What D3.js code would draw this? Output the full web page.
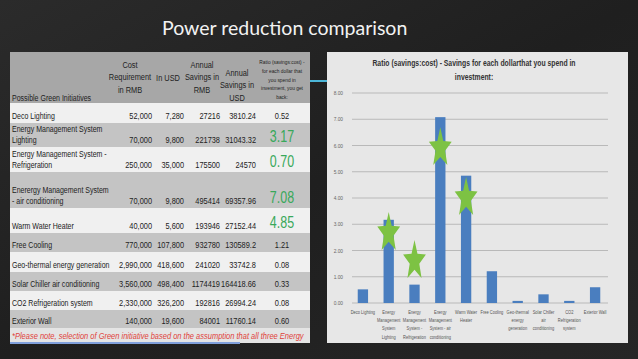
<!DOCTYPE html>
<meta charset="utf-8">
<html>
<head>
<style>
  body { margin: 0; background: #222; }
  svg { display: block; }
  .narrow { font-family: "Liberation Sans", Arial, sans-serif; }
</style>
</head>
<body>
<div id="slide"></div>
<script src="https://d3js.org/d3.v7.min.js"></script>
<script>
// ---- data ----
let initiatives = [
  ['Deco Lighting'],
  ['Energy Management System', 'Lighting'],
  ['Energy Management System -', 'Refrigeration'],
  ['Enerergy Management System', '- air conditioning'],
  ['Warm Water Heater'],
  ['Free Cooling'],
  ['Geo-thermal energy generation'],
  ['Solar Chiller air conditioning'],
  ['CO2 Refrigeration system'],
  ['Exterior Wall']
];
let costRMB = ['52,000', '70,000', '250,000', '70,000', '40,000', '770,000', '2,990,000', '3,560,000', '2,330,000', '140,000'];
let costUSD = ['7,280', '9,800', '35,000', '9,800', '5,600', '107,800', '418,600', '498,400', '326,200', '19,600'];
let savingsRMB = ['27216', '221738', '175500', '495414', '193946', '932780', '241020', '1174419', '192816', '84001'];
let savingsUSD = ['3810.24', '31043.32', '24570', '69357.96', '27152.44', '130589.2', '33742.8', '164418.66', '26994.24', '11760.14'];
let ratio = [0.52, 3.17, 0.70, 7.08, 4.85, 1.21, 0.08, 0.33, 0.08, 0.60];
let highlighted = [false, true, true, true, true, false, false, false, false, false];

let chartLabels = [
  ['Deco Lighting'],
  ['Energy', 'Management', 'System', 'Lighting'],
  ['Energy', 'Management', 'System -', 'Refrigeration'],
  ['Energy', 'Management', 'System - air', 'conditioning'],
  ['Warm Water', 'Heater'],
  ['Free Cooling'],
  ['Geo-thermal', 'energy', 'generation'],
  ['Solar Chiller', 'air', 'conditioning'],
  ['CO2', 'Refrigeration', 'system'],
  ['Exterior Wall']
];
let yTicks = [0, 1, 2, 3, 4, 5, 6, 7, 8];
// green star annotations: category index and value level where each star sits
let starCats = [1, 2, 3, 4];
let starLevels = [2.67, 1.6, 5.9, 4.0];

let headerCols = [
  ['Cost', 'Requirement', 'in RMB'],
  ['In USD'],
  ['Annual', 'Savings in', 'RMB'],
  ['Annual', 'Savings in', 'USD']
];
let ratioHeader = ['Ratio (savings:cost) -', 'for each dollar that', 'you spend in', 'investment, you get', 'back:'];
let noteText = '*Please note, selection of Green initiative based on the assumption that all  three Energy';

// ---- helpers ----
// the slide uses a condensed (Calibri-like) face; squeeze Liberation Sans horizontally around its anchor
function squeeze(sel, k) {
  sel.each(function() {
    let node = d3.select(this);
    let ax = node.attr('x');
    if (ax === null) ax = node.select('tspan').attr('x');
    ax = +ax;
    node.attr('transform', `translate(${ax},0) scale(${k},1) translate(${-ax},0)`);
  });
}

// ---- layout ----
let W = 638, H = 359;
let svg = d3.select('#slide').append('svg').attr('width', W).attr('height', H);

// dark slide background
let bg = svg.append('defs').append('linearGradient').attr('id', 'bg')
  .attr('x1', 0).attr('y1', 0).attr('x2', 1).attr('y2', 1);
bg.append('stop').attr('offset', 0).attr('stop-color', '#2b2b2b');
bg.append('stop').attr('offset', 0.5).attr('stop-color', '#1f1f1f');
bg.append('stop').attr('offset', 1).attr('stop-color', '#262626');
svg.append('rect').attr('width', W).attr('height', H).attr('fill', 'url(#bg)');

svg.append('text')
  .attr('x', 162).attr('y', 35)
  .attr('font-family', 'Lato, "Open Sans", sans-serif')
  .attr('font-size', 19.5)
  .attr('fill', '#f2f2f2')
  .text('Power reduction comparison');

// thin cyan accent line peeking between panels
svg.append('line').attr('x1', 300).attr('x2', 335).attr('y1', 81).attr('y2', 81)
  .attr('stroke', '#4cb6d8').attr('stroke-width', 2);

// ---- table (left) ----
let table = svg.append('g').attr('class', 'narrow');
let tX0 = 10, tX1 = 310, headTop = 52, headBottom = 103;
let rowHeights = [20, 24, 25, 36, 25, 19, 20, 19, 19, 18];
let rowTops = [];
rowHeights.reduce((acc, h) => { rowTops.push(acc); return acc + h; }, headBottom);
let tableBottom = rowTops[rowTops.length - 1] + rowHeights[rowHeights.length - 1];

table.append('rect').attr('x', tX0).attr('y', headTop).attr('width', tX1 - tX0).attr('height', headBottom - headTop)
  .attr('fill', '#a7a7a7');

let rows = table.selectAll('g.row').data(initiatives).join('g').attr('class', 'row');
rows.append('rect')
  .attr('x', tX0).attr('width', tX1 - tX0)
  .attr('y', (d, i) => rowTops[i]).attr('height', (d, i) => rowHeights[i])
  .attr('fill', (d, i) => i % 2 === 0 ? '#f0f0f0' : '#c4c4c4');

let textCol = '#222';
let tableTexts = [];
// header texts
tableTexts.push(table.append('text').attr('x', 12).attr('y', 101).attr('font-size', 9).attr('fill', textCol)
  .text('Possible Green Initiatives'));
let headCenters = [130, 168, 202, 237];
let headStart = [68, 81, 68, 76];
headerCols.forEach((lines, c) => {
  let t = table.append('text').attr('text-anchor', 'middle').attr('font-size', 9.5).attr('fill', textCol);
  t.selectAll('tspan').data(lines).join('tspan')
    .attr('x', headCenters[c]).attr('y', (d, i) => headStart[c] + i * 12.5).text(d => d);
  tableTexts.push(t);
});
let rh = table.append('text').attr('text-anchor', 'middle').attr('font-size', 6.2).attr('fill', textCol);
rh.selectAll('tspan').data(ratioHeader).join('tspan')
  .attr('x', 282).attr('y', (d, i) => 64 + i * 8.8).text(d => d);
tableTexts.push(rh);

// body
let baseline = i => rowTops[i] + rowHeights[i] - 4;
let names = rows.append('text').attr('font-size', 9).attr('fill', textCol);
names.selectAll('tspan').data(d => d).join('tspan')
  .attr('x', 12)
  .attr('y', function(d, j, nodes) {
    let i = initiatives.indexOf(d3.select(this.parentNode).datum());
    return baseline(i) - (nodes.length - 1 - j) * 11;
  })
  .text(d => d);
tableTexts.push(names);

let numCols = [[costRMB, 152], [costUSD, 184], [savingsRMB, 220], [savingsUSD, 256]];
numCols.forEach(([vals, xr]) => {
  tableTexts.push(rows.append('text').attr('x', xr).attr('y', (d, i) => baseline(i))
    .attr('text-anchor', 'end').attr('font-size', 9.5).attr('fill', textCol)
    .text((d, i) => vals[i]));
});
tableTexts.push(rows.append('text').attr('x', 282)
  .attr('y', (d, i) => highlighted[i] ? baseline(i) - 1 : baseline(i))
  .attr('text-anchor', 'middle')
  .attr('font-size', (d, i) => highlighted[i] ? 16 : 9.5)
  .attr('fill', (d, i) => highlighted[i] ? '#38a85a' : textCol)
  .text((d, i) => ratio[i].toFixed(2)));

// note strip
table.append('rect').attr('x', tX0).attr('y', tableBottom).attr('width', tX1 - tX0).attr('height', 15)
  .attr('fill', '#e4e4e4');
table.append('line').attr('x1', tX0).attr('x2', 240).attr('y1', tableBottom + 15).attr('y2', tableBottom + 15)
  .attr('stroke', '#7f9fdb').attr('stroke-width', 2);
let note = table.append('text').attr('x', 12).attr('y', tableBottom + 11)
  .attr('font-size', 9.5).attr('font-style', 'italic').attr('fill', '#e0413a')
  .text(noteText);
squeeze(note, 292 / note.node().getComputedTextLength());

tableTexts.forEach(t => squeeze(t, 0.78));

// ---- bar chart (right) ----
let cX0 = 327, cX1 = 628, cY0 = 52, cY1 = 343;
let chart = svg.append('g').attr('class', 'narrow');
chart.append('rect').attr('x', cX0).attr('y', cY0).attr('width', cX1 - cX0).attr('height', cY1 - cY0)
  .attr('fill', '#e7e7e7');

let ctitle = chart.append('text').attr('text-anchor', 'middle').attr('font-size', 9).attr('font-weight', 'bold').attr('fill', '#333');
ctitle.selectAll('tspan').data(['Ratio (savings:cost) - Savings for each dollarthat you spend in', 'investment:']).join('tspan')
  .attr('x', 474).attr('y', (d, i) => 66 + i * 14).text(d => d);
squeeze(ctitle, 0.76);

let x = d3.scaleBand().domain(d3.range(ratio.length)).range([350, 608]).paddingInner(0.6).paddingOuter(0.3);
let y = d3.scaleLinear().domain([0, 8]).range([303, 93]);

chart.append('g').selectAll('line').data(yTicks).join('line')
  .attr('x1', 352).attr('x2', 608)
  .attr('y1', d => y(d)).attr('y2', d => y(d))
  .attr('stroke', '#b9b9b9').attr('stroke-width', 1);

let yAxis = chart.append('g').attr('transform', 'translate(343,0)')
  .call(d3.axisLeft(y).tickValues(yTicks).tickFormat(d3.format('.2f')).tickSize(0).tickPadding(0));
yAxis.select('.domain').remove();
yAxis.selectAll('text').attr('font-size', 4.8).attr('fill', '#666').attr('font-family', null);

chart.append('g').selectAll('rect').data(ratio).join('rect')
  .attr('x', (d, i) => x(i)).attr('width', x.bandwidth())
  .attr('y', d => y(d)).attr('height', d => y(0) - y(d))
  .attr('fill', '#4a7ebf');

let xl = chart.append('g').selectAll('text').data(chartLabels).join('text')
  .attr('text-anchor', 'middle').attr('font-size', 5).attr('fill', '#555')
  .each(function(lines, i) {
    d3.select(this).selectAll('tspan').data(lines).join('tspan')
      .attr('x', x(i) + x.bandwidth() / 2).attr('y', (d, j) => 314 + j * 8.2).text(d => d);
  });
squeeze(xl, 0.8);

// green stars
function starPath(rx, ry, inner) {
  let pts = d3.range(10).map(k => {
    let a = k * Math.PI / 5;
    let r = k % 2 === 0 ? 1 : inner;
    return [Math.sin(a) * rx * r, -Math.cos(a) * ry * r];
  });
  return 'M' + pts.map(p => p.join(',')).join('L') + 'Z';
}
chart.append('g').selectAll('path').data(starCats).join('path')
  .attr('transform', (c, k) => `translate(${x(c) + x.bandwidth() / 2},${y(starLevels[k])})`)
  .attr('d', starPath(12, 21, 0.42))
  .attr('fill', '#7dc243');
</script>
</body>
</html>
